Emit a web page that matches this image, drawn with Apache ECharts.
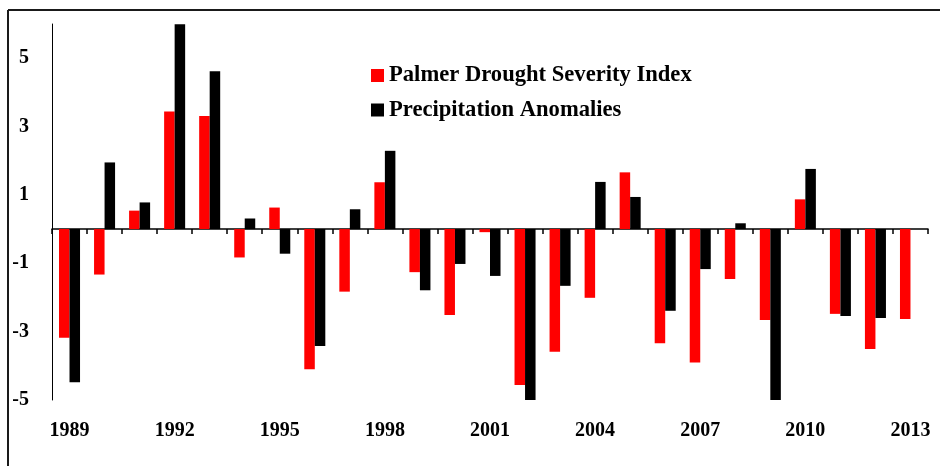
<!DOCTYPE html>
<html>
<head>
<meta charset="utf-8">
<script src="https://cdn.jsdelivr.net/npm/echarts@6/dist/echarts.min.js"></script>
<style>
  html, body { margin: 0; padding: 0; background: #fff; }
  #chart { width: 940px; height: 466px; }
</style>
</head>
<body>
<div id="chart"></div>
<script>
// Years shown on the category axis
const years = ['1989','1990','1991','1992','1993','1994','1995','1996','1997','1998',
  '1999','2000','2001','2002','2003','2004','2005','2006','2007','2008',
  '2009','2010','2011','2012','2013'];

// Palmer Drought Severity Index per year
const pdsi = [-3.18, -1.33, 0.54, 3.44, 3.31, -0.83, 0.63, -4.10, -1.83, 1.37,
  -1.26, -2.51, -0.09, -4.56, -3.59, -2.01, 1.66, -3.34, -3.90, -1.46,
  -2.66, 0.87, -2.48, -3.51, -2.63];

// Precipitation anomalies per year (no value for 2013)
const precip = [-4.48, 1.95, 0.78, 5.99, 4.62, 0.31, -0.72, -3.42, 0.58, 2.29,
  -1.79, -1.02, -1.37, -5.0, -1.66, 1.38, 0.94, -2.39, -1.17, 0.17,
  -5.0, 1.76, -2.54, -2.60, null];

// Value axis range and label step
const yMin = -5;
const yMax = 6;
const yStep = 2;

const serifFont = "'Palatino Linotype', 'Book Antiqua', Palatino, 'Liberation Serif', serif";

const chart = echarts.init(document.getElementById('chart'), null, { renderer: 'canvas' });

chart.setOption({
  animation: false,
  backgroundColor: '#ffffff',
  textStyle: { fontFamily: serifFont },
  graphic: [
    { type: 'line', shape: { x1: 8, y1: 10, x2: 940, y2: 10 },
      style: { stroke: '#1a1a1a', lineWidth: 2 } },
    { type: 'line', shape: { x1: 8, y1: 10, x2: 8, y2: 466 },
      style: { stroke: '#1a1a1a', lineWidth: 2 } }
  ],
  legend: {
    orient: 'vertical',
    left: 371,
    top: 64,
    padding: 0,
    itemWidth: 13,
    itemHeight: 13,
    itemGap: 11.5,
    icon: 'rect',
    textStyle: { fontFamily: serifFont, fontWeight: 'bold', fontSize: 22.6, color: '#000' },
    data: ['Palmer Drought Severity Index', 'Precipitation Anomalies']
  },
  grid: { left: 52, right: 12, top: 24, bottom: 66 },
  xAxis: [
    {
      type: 'category',
      data: years,
      axisLine: { onZero: true, lineStyle: { color: '#000', width: 1.5 } },
      axisTick: { show: true, alignWithLabel: false, interval: 0, length: 5, lineStyle: { color: '#000', width: 1.5 } },
      axisLabel: { show: false }
    },
    {
      type: 'category',
      data: years,
      position: 'bottom',
      axisLine: { show: false, onZero: false },
      axisTick: { show: false },
      axisLabel: {
        interval: 2,
        margin: 21,
        fontFamily: serifFont,
        fontWeight: 'bold',
        fontSize: 20,
        color: '#000'
      }
    }
  ],
  yAxis: {
    type: 'value',
    min: yMin,
    max: yMax,
    interval: yStep,
    splitLine: { show: false },
    axisTick: { show: false },
    axisLine: { show: true, lineStyle: { color: '#000', width: 1 } },
    axisLabel: {
      showMaxLabel: false,
      margin: 23,
      fontFamily: serifFont,
      fontWeight: 'bold',
      fontSize: 20,
      color: '#000'
    }
  },
  series: [
    {
      name: 'Palmer Drought Severity Index',
      type: 'bar',
      xAxisIndex: 0,
      data: pdsi,
      itemStyle: { color: '#ff0000' },
      barGap: '0%',
      barCategoryGap: '40%'
    },
    {
      name: 'Precipitation Anomalies',
      type: 'bar',
      xAxisIndex: 0,
      data: precip,
      itemStyle: { color: '#000000' },
      barGap: '0%',
      barCategoryGap: '40%'
    }
  ]
});
</script>
</body>
</html>
